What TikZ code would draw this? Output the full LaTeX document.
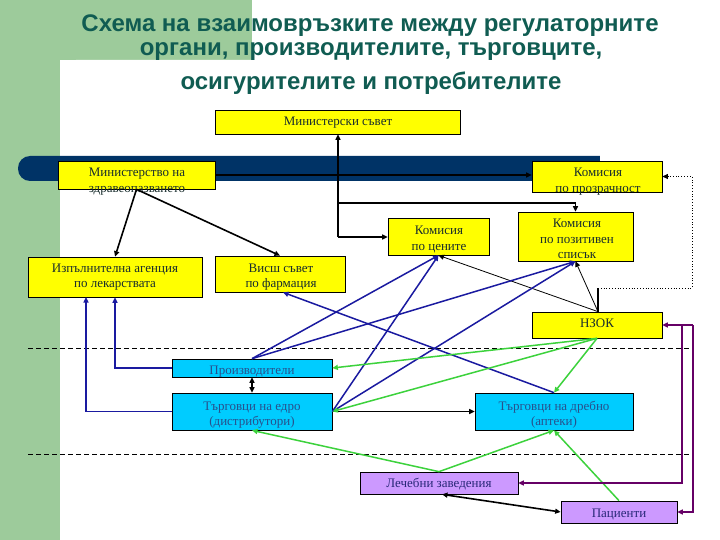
\documentclass[tikz,border=0pt]{standalone}
\usepackage{fontspec}
\setmainfont{Liberation Serif}
\newfontfamily\titlefont{Liberation Sans}
\usetikzlibrary{arrows.meta}
\definecolor{bggreen}{RGB}{157,203,155}
\definecolor{navybar}{RGB}{0,51,102}
\definecolor{titlecol}{RGB}{16,92,82}
\definecolor{byellow}{RGB}{255,255,0}
\definecolor{bcyan}{RGB}{0,204,255}
\definecolor{bpurple}{RGB}{204,153,255}
\definecolor{ytext}{RGB}{25,45,45}
\definecolor{ctext}{RGB}{40,80,140}
\definecolor{ptext}{RGB}{40,40,120}
\definecolor{lblue}{RGB}{26,26,160}
\definecolor{lgreen}{RGB}{60,210,60}
\definecolor{lpurple}{RGB}{102,0,102}
\newcommand{\bxt}[1]{\begin{tabular}[t]{@{}c@{}}#1\end{tabular}}
\tikzset{
  tip/.style={-{Triangle[length=5.5pt,width=5pt]}},
  tipboth/.style={{Triangle[length=5.5pt,width=5pt]}-{Triangle[length=5.5pt,width=5pt]}},
  wh/.style 2 args={minimum width=#1,minimum height=#2},
  boxbase/.style={draw=black,line width=0.7pt,inner sep=0pt},
  ybox/.style={boxbase,fill=byellow},
  cbox/.style={boxbase,fill=bcyan},
  pbox/.style={boxbase,fill=bpurple},
  btxt/.style={anchor=base,inner sep=0pt,font=\fontsize{13}{15.5}\selectfont},
  ytxt/.style={btxt,text=ytext},
  ctxt/.style={btxt,text=ctext},
  ptxt/.style={btxt,text=ptext},
  ttl/.style={anchor=base,inner sep=0pt,text=titlecol,font=\titlefont\bfseries\fontsize{24}{28}\selectfont},
  blk/.style={draw=black,line width=1.6pt},
  thinblk/.style={draw=black,line width=0.8pt},
  blu/.style={draw=lblue,line width=1.5pt},
  grn/.style={draw=lgreen,line width=1.5pt},
  pur/.style={draw=lpurple,line width=2pt},
  dsh/.style={draw=black,line width=0.7pt,dash pattern=on 5pt off 3pt}
}
\begin{document}
\begin{tikzpicture}[x=1pt,y=-1pt]
\useasboundingbox (0,0) rectangle (720,540);
\clip (0,0) rectangle (720,540);
% background
\fill[white] (0,0) rectangle (720,540);
\fill[bggreen] (0,0) rectangle (60,540);
\fill[bggreen] (0,0) rectangle (252,60);
\fill[white,rounded corners=16pt] (60,60) rectangle (760,580);
% navy bar
\fill[navybar,rounded corners=12pt] (18,156) rectangle (640,181);
\fill[white] (600,150) rectangle (720,190);
% title
\node[ttl] (t1) at (370,32) {Схема на взаимовръзките между регулаторните};
\node[ttl] (t2) at (371,56) {органи, производителите, търговците,};
\node[ttl] (t3) at (371,90) {осигурителите и потребителите};
% dashed separators
\coordinate (da1) at (28,348); \coordinate (da2) at (690,348);
\coordinate (db1) at (28,454); \coordinate (db2) at (690,454);
\draw[dsh] (da1) -- (da2);
\draw[dsh] (db1) -- (db2);
% boxes
\node[ybox,wh={245pt}{24pt}] (ms) at (337.5,122) {};
\node[ybox,wh={157pt}{28pt}] (mz) at (136.5,175) {};
\node[ybox,wh={130pt}{31pt}] (pr) at (597,176.5) {};
\node[ybox,wh={101pt}{37pt}] (ce) at (438.5,236.5) {};
\node[ybox,wh={115pt}{49pt}] (po) at (575.5,236.5) {};
\node[ybox,wh={174pt}{40pt}] (ia) at (115,277) {};
\node[ybox,wh={130pt}{36pt}] (vs) at (280,274) {};
\node[ybox,wh={130pt}{26pt}] (nz) at (597,325) {};
\node[cbox,wh={160pt}{18pt}] (pv) at (252,368) {};
\node[cbox,wh={160pt}{37pt}] (ed) at (252,411.5) {};
\node[cbox,wh={158pt}{37pt}] (dr) at (554,411.5) {};
\node[pbox,wh={158pt}{22pt}] (le) at (439,483) {};
\node[pbox,wh={116pt}{22pt}] (pa) at (619,512) {};
% box texts
\node[ytxt] (msT) at (338,126) {Министерски съвет};
\node[ytxt] (mzT) at (137,177) {\bxt{Министерство на\\здравеопазването}};
\node[ytxt] (prT) at (598,177) {\bxt{Комисия\\по прозрачност}};
\node[ytxt] (ceT) at (439,235) {\bxt{Комисия\\по цените}};
\node[ytxt] (poT) at (577,228) {\bxt{Комисия\\по позитивен\\списък}};
\node[ytxt] (iaT) at (115,272) {\bxt{Изпълнителна агенция\\по лекарствата}};
\node[ytxt] (vsT) at (281,272) {\bxt{Висш съвет\\по фармация}};
\node[ytxt] (nzT) at (597,327) {НЗОК};
\node[ctxt] (pvT) at (252,374) {Производители};
\node[ctxt] (edT) at (252,410) {\bxt{Търговци на едро\\(дистрибутори)}};
\node[ctxt] (drT) at (554,410) {\bxt{Търговци на дребно\\(аптеки)}};
\node[ptxt] (leT) at (439,487) {Лечебни заведения};
\node[ptxt] (paT) at (619,517) {Пациенти};
% junction coordinates
\coordinate (j1) at (338,237);
\coordinate (j2) at (338,203);
\coordinate (d1) at (598,288);
\coordinate (d2) at (692,288);
\coordinate (ia2) at (86,297);
\coordinate (p1) at (693,325);
\coordinate (p2) at (682,325);
% black connectors
\draw[blk,tip] (j1) -- (j1 |- ms.south);
\draw[blk,tip] (j1) -- (j1 -| ce.west);
\draw[blk,tip] (j2) -| (po.north);
\draw[blk,tip] (mz.east) -- (mz.east -| pr.west);
\draw[blk,tip] (mz.south) -- (ia.north);
\draw[blk,tip] (mz.south) -- (vs.north);
\draw[blk] (nz.north -| d1) -- (d1);
\draw[thinblk,dotted,tip] (d1) -- (d2) |- (pr.east);
\draw[thinblk,tip] (nz.north -| d1) -- (ce.south);
\draw[thinblk,tip] (nz.north -| d1) -- (po.south);
\draw[blk,tip] (ed.east) -- (dr.west);
\draw[blk,tipboth] (pv.south) -- (ed.north);
\draw[blk,tipboth] ([xshift=3pt]le.south) -- (pa.west);
% blue connectors
\draw[blu,tip] (pv.west) -| (ia.south);
\draw[blu,tip] (ed.west) -| (ia2);
\draw[blu,tip] (pv.north) -- (ce.south);
\draw[blu,tip] (pv.north) -- (po.south);
\draw[blu,tip] (ed.east) -- (ce.south);
\draw[blu,tip] (ed.east) -- (po.south);
\draw[blu,tip] (dr.north) -- ([xshift=3pt]vs.south);
% green connectors
\draw[grn,tip] (nz.south) -- (pv.east);
\draw[grn,tip] (nz.south) -- (ed.east);
\draw[grn,tip] (nz.south) -- (dr.north);
\draw[grn,tip] (le.north) -- (ed.south);
\draw[grn,tip] (le.north) -- (dr.south);
\draw[grn,tip] (pa.north) -- (dr.south);
% purple connectors
\draw[pur,tip] (p1) -- (nz.east);
\draw[pur,tip] (p1) |- (pa.east);
\draw[pur,tip] (p2) |- (le.east);
\end{tikzpicture}
\end{document}
